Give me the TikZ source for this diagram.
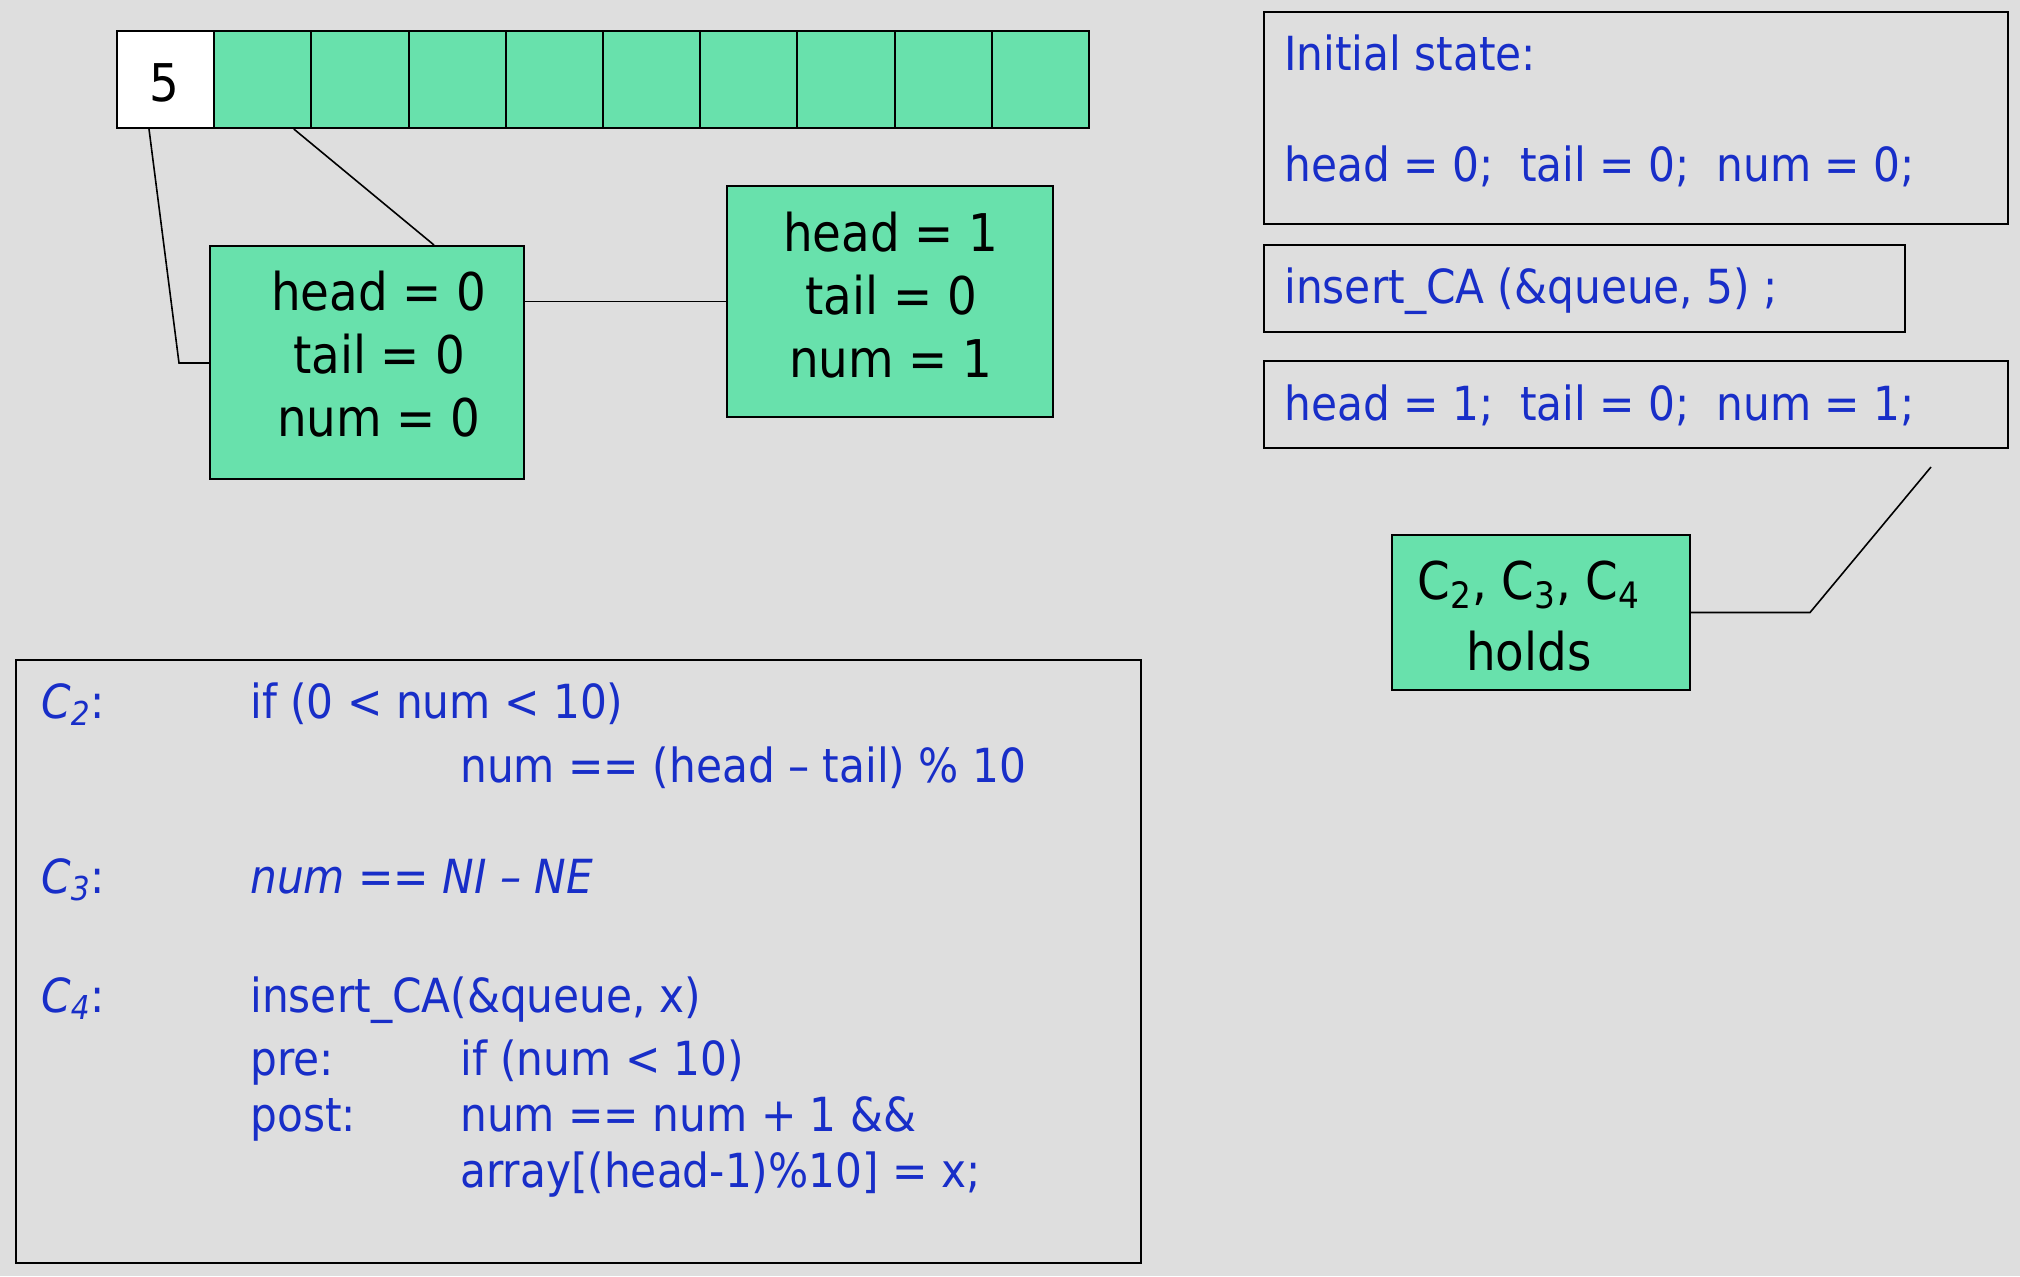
\documentclass[tikz,border=0pt]{standalone}
\usepackage{fontspec}
\setmainfont{DejaVu Sans Condensed}
\usetikzlibrary{fit}
\definecolor{bgc}{RGB}{222,222,222}
\definecolor{grc}{RGB}{104,225,172}
\definecolor{blc}{RGB}{24,46,200}
\begin{document}
\begin{tikzpicture}[x=0.5pt,y=-0.5pt,
  boxst/.style={draw=black, line width=1pt, inner sep=0pt},
  gbox/.style={boxst, fill=grc},
  cellst/.style={boxst, fill=grc, minimum width=48.6pt, minimum height=48.5pt, anchor=center},
  btxt/.style={anchor=base west, inner sep=0pt, text=blc, font=\fontsize{23.5}{28}\selectfont},
  ctxt/.style={anchor=base west, inner sep=0pt, text=blc, font=\fontsize{23.5}{28}\selectfont},
  ktxt/.style={anchor=base, inner sep=0pt, text=black, font=\fontsize{26}{30}\selectfont},
  conn/.style={draw=black, line width=0.8pt}]
\fill[bgc] (0,0) rectangle (2020,1276);
\useasboundingbox (0,0) rectangle (2020,1276);

% array
\foreach \i in {0,...,9} {
  \node[cellst] (c\i) at ({117+97.2*(\i+0.5)},79.5) {};
}
\node[cellst, fill=white] (c0) at (165.6,79.5) {};
\node[ktxt] (five) at (164,101) {5};

% state boxes
\node[gbox, fit={(210,246) (524,479)}] (b1) {};
\node[gbox, fit={(727,186) (1053,417)}] (b2) {};
\node[ktxt] (b1a) at (379,310) {head = 0};
\node[ktxt] (b1b) at (379,373) {tail = 0};
\node[ktxt] (b1c) at (379,436) {num = 0};
\node[ktxt] (b2a) at (891,251) {head = 1};
\node[ktxt] (b2b) at (891,314) {tail = 0};
\node[ktxt] (b2c) at (891,377) {num = 1};

% connectors left
\coordinate (k1) at (179,363);
\draw[conn] ([xshift=-8.3pt]c0.south) -- (k1) -- (k1 -| b1.west);
\draw[conn] ([xshift=15.5pt]c1.south) -- ([xshift=33.5pt]b1.north);
\draw[conn] (b2.west -| b1.east) -- (b2.west);

% right side boxes
\node[boxst, fit={(1264,12) (2008,224)}] (r1) {};
\node[boxst, fit={(1264,245) (1905,332)}] (r2) {};
\node[boxst, fit={(1264,361) (2008,448)}] (r3) {};
\node[btxt] (r1a) at (1284,70) {Initial state:};
\node[btxt] (r1b) at (1284,181) {head = 0;~~tail = 0;~~num = 0;};
\node[btxt] (r2a) at (1284,303) {insert\_CA (\&queue, 5) ;};
\node[btxt] (r3a) at (1284,420) {head = 1;~~tail = 0;~~num = 1;};

\node[gbox, fit={(1392,535) (1690,690)}] (cb) {};
\node[ktxt] (cba) at (1529,599) {C\textsubscript{2}, C\textsubscript{3}, C\textsubscript{4}};
\node[ktxt] (cbb) at (1529,670) {holds};
\coordinate (k3) at (1931,467);
\coordinate (k2) at (1810,612.5);
\draw[conn] (k3) -- (k2) -- (cb.east);

% bottom box
\node[boxst, fit={(16,660) (1141,1263)}] (bot) {};
\node[ctxt] (l1a) at (41,718) {\itshape C\textsubscript{2}\upshape:};
\node[ctxt] (l1b) at (250,718) {if (0 < num < 10)};
\node[ctxt] (l2b) at (460,782) {num == (head – tail) \% 10};
\node[ctxt] (l3a) at (41,893) {\itshape C\textsubscript{3}\upshape:};
\node[ctxt] (l3b) at (250,893) {\itshape num == NI – NE};
\node[ctxt] (l4a) at (41,1012) {\itshape C\textsubscript{4}\upshape:};
\node[ctxt] (l4b) at (250,1012) {insert\_CA(\&queue, x)};
\node[ctxt] (l5a) at (250,1075) {pre:};
\node[ctxt] (l5b) at (460,1075) {if (num < 10)};
\node[ctxt] (l6a) at (250,1131) {post:};
\node[ctxt] (l6b) at (460,1131) {num == num + 1 \&\&};
\node[ctxt] (l7b) at (460,1187) {array[(head-1)\%10] = x;};
\end{tikzpicture}
\end{document}
